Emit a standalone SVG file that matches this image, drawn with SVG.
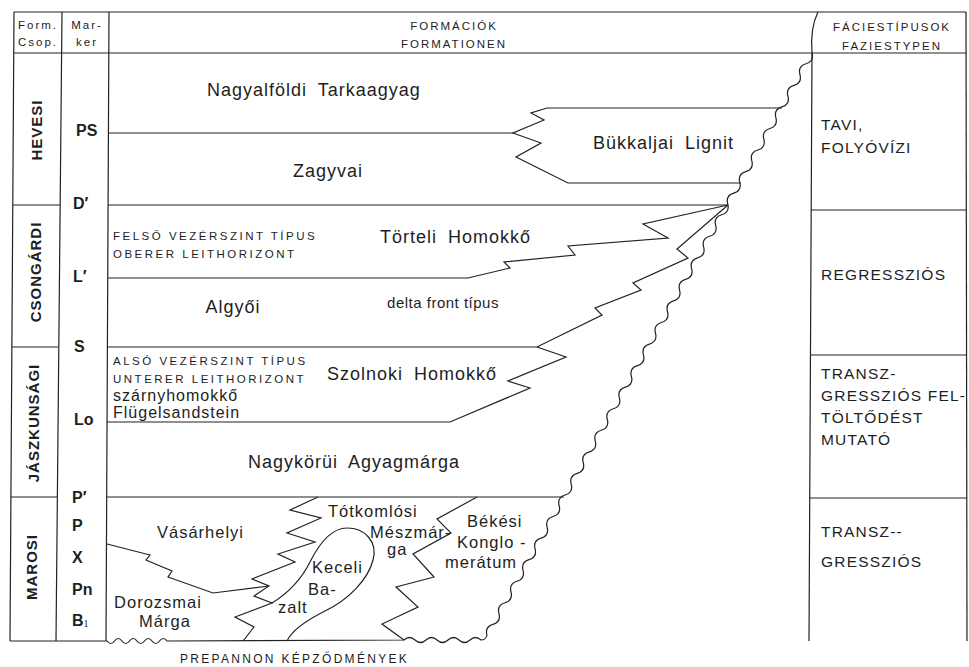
<svg xmlns="http://www.w3.org/2000/svg" width="969" height="667" viewBox="0 0 969 667">
<style>
.ln{fill:none;stroke:#222;stroke-width:1.2;stroke-linejoin:miter}
.t{font-family:"Liberation Sans",Arial,sans-serif;fill:#1e1e1e}
.big{font-size:18px;letter-spacing:1px;word-spacing:5px}
.mid{font-size:16.5px;letter-spacing:1px}
.lo{font-size:15px;letter-spacing:0.5px}
.sm{font-size:16px;letter-spacing:1px}
.caps{font-size:11.5px;letter-spacing:2.5px}
.hdr{font-size:11.5px;letter-spacing:2px}
.mk{font-size:16px;font-weight:bold}
.grp{font-size:15px;font-weight:bold;letter-spacing:1px}
.fac{font-size:15.5px;letter-spacing:1.2px}
</style>
<rect width="969" height="667" fill="#fff"/>

<g id="table" class="ln">
<path d="M14,12 L966,12"/>
<path d="M14,12 L10,641"/>
<path d="M62,12 L56,641"/>
<path d="M109,12 L106,641"/>
<path d="M14,53 L966,53"/>
<path d="M812,53 L809,641"/>
<path d="M966,12 L967,641"/>
<path d="M818,12 Q810,28 812,53"/>
<path d="M13,205 L60,205"/>
<path d="M12,347 L58,347"/>
<path d="M11,497 L57,497"/>
<path d="M811,210 L966,210"/>
<path d="M810,355 L966,355"/>
<path d="M810,498 L967,498"/>
</g>

<g id="connectors" class="ln">
<path id="wavy-boundary" d="M812,53 q2.23,8.32 -6.02,10.78 t-6.02,10.78 t-6.02,10.78 t-6.02,10.78 t-6.02,10.78 t-6.02,10.78 t-6.02,10.78 t-6.02,10.78 t-6.02,10.78 t-6.02,10.78 t-6.02,10.78 t-6.02,10.78 t-6.02,10.78 t-6.02,10.78 t-6.02,10.78 t-6.02,10.78 t-6.02,10.78 t-6.02,10.78 t-6.02,10.78 t-6.02,10.78 t-6.02,10.78 t-6.02,10.78 t-6.02,10.78 t-6.02,10.78 t-6.02,10.78 t-6.02,10.78 t-6.02,10.78 t-6.02,10.78 t-6.02,10.78 t-6.02,10.78 t-6.02,10.78 t-6.02,10.78 t-6.02,10.78 t-6.02,10.78 t-6.02,10.78 t-6.02,10.78 t-6.02,10.78 t-6.02,10.78 t-6.02,10.78 t-6.02,10.78 t-6.02,10.78 t-6.02,10.78 t-6.02,10.78 t-6.02,10.78 t-6.02,10.78 t-6.02,10.78 t-6.02,10.78 t-6.02,10.78 t-6.02,10.78 t-6.02,10.78 t-6.02,10.78 t-6.02,10.78 t-6.02,10.78 t-6.02,10.78"/>
<path id="base-line" d="M487,635 Q486,640 481,640 q-5.5,-5 -11,0 t-11,0 t-11,0 t-11,0 t-11,0 t-11,0 t-11,0 L167,641 q-3.75,-5 -7.5,0 t-7.5,0 t-7.5,0 t-7.5,0 t-7.5,0 t-7.5,0 t-7.5,0 t-7.5,0 L10,641"/>
<path id="ps-line" d="M108,133 L513,133"/>
<path id="bukkaljai-edge" d="M782,108 L547,108 L531,113 L544,120 L513,133 L541,143 L516,157 L568,183 L741,183"/>
<path id="d-line" d="M108,205 L728,205"/>
<path id="l-line" d="M108,278 L468,278 L510,268 L504,262 L575,255 L568,246 L668,238 L643,224 L728,205"/>
<path id="s-line" d="M107,347 L537,347 L602,315 L595,308 L641,290 L633,283 L688,258 L677,249 L728,205"/>
<path id="lo-line" d="M537,347 L566,357 L508,381 L530,388 L450,422 L107,422"/>
<path id="p-line" d="M107,497 L564,497"/>
<path id="vasarhelyi-base" d="M107,544 L150,555 L146,560 L172,571 L168,577 L213,593 L269,586"/>
<path id="vasarhelyi-edge" d="M318,497 L290,510 L321,518 L287,533 L315,542 L278,554 L295,562 L252,579 L269,586 L254,596 L272,603 L235,617 L254,627 L243,641"/>
<path id="keceli-edge" d="M272,603 C290,592 302,578 310,562 C320,542 333,528 347,528 C365,528 378,542 373,560 C368,580 348,600 325,611 C305,621 292,630 287,641"/>
<path id="bekesi-edge" d="M477,497 L437,519 L451,533 L413,554 L434,577 L396,587 L418,607 L382,624 L404,640"/>
</g>

<g id="header" class="t">
<text class="hdr" x="38" y="29" text-anchor="middle">Form.</text>
<text class="hdr" x="38" y="46" text-anchor="middle">Csop.</text>
<text class="hdr" x="87" y="29" text-anchor="middle">Mar-</text>
<text class="hdr" x="87" y="46" text-anchor="middle">ker</text>
<text class="hdr" x="454" y="30" text-anchor="middle">FORMÁCIÓK</text>
<text class="hdr" x="454" y="48" text-anchor="middle">FORMATIONEN</text>
<text class="hdr" x="892" y="31" text-anchor="middle">FÁCIESTÍPUSOK</text>
<text class="hdr" x="892" y="50" text-anchor="middle">FAZIESTYPEN</text>
</g>

<g id="groups" class="t grp">
<g id="g-hevesi"><text transform="translate(42,130) rotate(-90)" text-anchor="middle">HEVESI</text></g>
<g id="g-csongardi"><text transform="translate(41,272) rotate(-90)" text-anchor="middle">CSONGÁRDI</text></g>
<g id="g-jaszkunsagi"><text transform="translate(39,423) rotate(-90)" text-anchor="middle">JÁSZKUNSÁGI</text></g>
<g id="g-marosi"><text transform="translate(37,567) rotate(-90)" text-anchor="middle">MAROSI</text></g>
</g>

<g id="markers" class="t mk">
<text x="76" y="136">PS</text>
<text x="73" y="209">D′</text>
<text x="73" y="282">L′</text>
<text x="74" y="352">S</text>
<text x="74" y="425">Lo</text>
<text x="72" y="503">P′</text>
<text x="72" y="531">P</text>
<text x="72" y="563">X</text>
<text x="72" y="595">Pn</text>
<text x="72" y="626">B<tspan font-size="10" font-weight="normal" font-family="Liberation Serif,serif" dy="1">1</tspan></text>
</g>

<g id="formations" class="t">
<g id="f-nagyalfoldi"><text class="big" x="207" y="96">Nagyalföldi Tarkaagyag</text></g>
<g id="f-zagyvai"><text class="big" x="293" y="177">Zagyvai</text></g>
<g id="f-bukkaljai"><text class="big" x="593" y="149">Bükkaljai Lignit</text></g>
<g id="f-torteli">
<text class="caps" x="113" y="240">FELSŐ VEZÉRSZINT TÍPUS</text>
<text class="caps" x="113" y="258">OBERER LEITHORIZONT</text>
<text class="big" x="380" y="243">Törteli Homokkő</text>
</g>
<g id="f-algyoi">
<text class="big" x="233" y="313" text-anchor="middle">Algyői</text>
<text class="lo" x="443" y="308" text-anchor="middle">delta front típus</text>
</g>
<g id="f-szolnoki">
<text class="caps" x="113" y="365">ALSÓ VEZÉRSZINT TÍPUS</text>
<text class="caps" x="113" y="383">UNTERER LEITHORIZONT</text>
<text class="sm" x="113" y="401">szárnyhomokkő</text>
<text class="sm" x="113" y="418">Flügelsandstein</text>
<text class="big" x="327" y="380">Szolnoki Homokkő</text>
</g>
<g id="f-nagykorui"><text class="big" x="248" y="468">Nagykörüi Agyagmárga</text></g>
<g id="f-vasarhelyi"><text class="mid" x="157" y="538">Vásárhelyi</text></g>
<g id="f-dorozsmai">
<text class="mid" x="158" y="608" text-anchor="middle">Dorozsmai</text>
<text class="mid" x="165" y="627" text-anchor="middle">Márga</text>
</g>
<g id="f-totkomlosi">
<text class="mid" x="328" y="517">Tótkomlósi</text>
<text class="mid" x="370" y="538">Mészmár-</text>
<text class="mid" x="387" y="555">ga</text>
</g>
<g id="f-keceli">
<text class="mid" x="312" y="573">Keceli</text>
<text class="mid" x="308" y="595">Ba-</text>
<text class="mid" x="278" y="613">zalt</text>
</g>
<g id="f-bekesi">
<text class="mid" x="467" y="527">Békési</text>
<text class="mid" x="457" y="548">Konglo -</text>
<text class="mid" x="445" y="568">merátum</text>
</g>
<g id="f-prepannon"><text class="caps" x="180" y="663" style="letter-spacing:2.3px;font-size:12px">PREPANNON KÉPZŐDMÉNYEK</text></g>
</g>

<g id="facies" class="t fac">
<g id="fa-tavi"><text x="821" y="130">TAVI,</text><text x="821" y="153">FOLYÓVÍZI</text></g>
<g id="fa-regresszios"><text x="821" y="280">REGRESSZIÓS</text></g>
<g id="fa-transz1"><text x="821" y="379">TRANSZ-</text><text x="821" y="401">GRESSZIÓS FEL-</text><text x="821" y="423">TÖLTŐDÉST</text><text x="821" y="445">MUTATÓ</text></g>
<g id="fa-transz2"><text x="821" y="537">TRANSZ--</text><text x="821" y="567">GRESSZIÓS</text></g>
</g>
</svg>
